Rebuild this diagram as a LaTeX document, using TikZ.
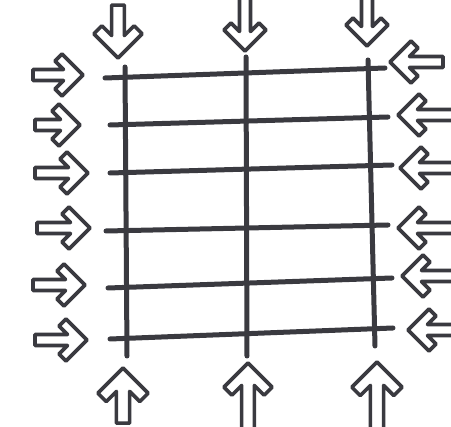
\documentclass[tikz,border=0pt]{standalone}
\definecolor{ink}{HTML}{3A3A40}
\tikzset{
  gridline/.style={draw=ink,line width=5pt,line cap=round},
  arrowline/.style={draw=ink,fill=white,line width=3.6pt,line join=round},
  barrow/.pic={\path[arrowline] (-#1,-5.5) -- (-19.5,-5.5) -- (-28,-14) -- (-21,-21) -- (0,0) -- (-21,21) -- (-28,14) -- (-19.5,5.5) -- (-#1,5.5) -- cycle;}
}
\begin{document}
\begin{tikzpicture}[x=1pt,y=-1pt]
\clip (0,0) rectangle (451,427);
\fill[white] (0,0) rectangle (451,427);
% grid
\coordinate (v1t) at (125,67);  \coordinate (v1b) at (127,356);
\coordinate (v2t) at (246,57);  \coordinate (v2b) at (247,356);
\coordinate (v3t) at (368,60);  \coordinate (v3b) at (375,346);
\draw[gridline] (v1t) -- (v1b);
\draw[gridline] (v2t) -- (v2b);
\draw[gridline] (v3t) -- (v3b);
\coordinate (h1l) at (105,78);  \coordinate (h1r) at (385,68);
\coordinate (h2l) at (110,125); \coordinate (h2r) at (388,117);
\coordinate (h3l) at (110,173); \coordinate (h3r) at (392,165);
\coordinate (h4l) at (106,231); \coordinate (h4r) at (388,225);
\coordinate (h5l) at (108,288); \coordinate (h5r) at (392,278);
\coordinate (h6l) at (110,339); \coordinate (h6r) at (393,328);
\foreach \i in {1,...,6} \draw[gridline] (h\i l) -- (h\i r);
% left arrows
\pic at (83,75) {barrow=50};
\pic at (80,125) {barrow=45};
\pic at (88,173) {barrow=53};
\pic at (90,228) {barrow=53};
\pic at (85,285) {barrow=52};
\pic at (87,340) {barrow=52};
% right arrows
\pic[rotate=180] at (390,62) {barrow=53};
\pic[rotate=180] at (398,115) {barrow=60};
\pic[rotate=180] at (400,168) {barrow=60};
\pic[rotate=180] at (398,228) {barrow=60};
\pic[rotate=180] at (402,276) {barrow=60};
\pic[rotate=180] at (408,330) {barrow=60};
% top arrows
\pic[rotate=-90,scale=1.15] at (118,58) {barrow=46};
\pic[rotate=-90] at (245,51) {barrow=60};
\pic[rotate=-90] at (367,46) {barrow=60};
% bottom arrows
\pic[rotate=90,scale=1.2] at (123,368) {barrow=46};
\pic[rotate=90,scale=1.15] at (248,363) {barrow=60};
\pic[rotate=90,scale=1.2] at (377,362) {barrow=60};
\end{tikzpicture}
\end{document}
